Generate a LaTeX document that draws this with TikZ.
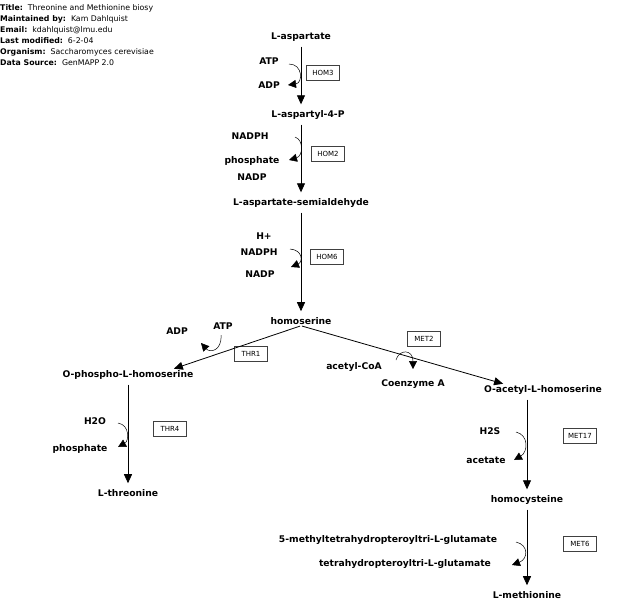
\documentclass[tikz,border=0pt]{standalone}
\usepackage{fontspec}
\setmainfont{DejaVu Sans}
\usetikzlibrary{arrows.meta,positioning}

\begin{document}
\begin{tikzpicture}[x=1pt, y=-1pt, every node/.style={font=\fontsize{9.2}{11}\selectfont\bfseries, inner sep=1pt}]
\tikzset{gene/.style={draw=black!75, font=\fontsize{7}{8}\selectfont, minimum width=33pt, minimum height=15pt, inner sep=2pt}}
\tikzset{rxn/.style={-{Triangle[length=9pt,width=8pt]}, line width=0.8pt, shorten <=4pt, shorten >=5pt}}
\tikzset{side/.style={-{Triangle[length=8pt,width=8pt]}, line width=0.5pt}}
\tikzset{info/.style={anchor=west, font=\fontsize{7.8}{9}\selectfont, inner sep=0pt}}
\useasboundingbox (0,0) rectangle (622,614);
% header
\node[info] (title) at (0,8) {\textbf{Title:}\ \ Threonine and Methionine biosy};
\node[info] (maint) at (0,19) {\textbf{Maintained by:}\ \ Kam Dahlquist};
\node[info] (email) at (0,30) {\textbf{Email:}\ \ kdahlquist@lmu.edu};
\node[info] (lastmod) at (0,41) {\textbf{Last modified:}\ \ 6-2-04};
\node[info] (organism) at (0,52) {\textbf{Organism:}\ \ Saccharomyces cerevisiae};
\node[info] (source) at (0,63) {\textbf{Data Source:}\ \ GenMAPP 2.0};
% metabolites
\node (asp) at (301,37) {L-aspartate};
\node (asp4p) at (308,115) {L-aspartyl-4-P};
\node (asa) at (301,203) {L-aspartate-semialdehyde};
\node (hser) at (301,321) {homoserine};
\node (phser) at (128,375) {O-phospho-L-homoserine};
\node (thr) at (128,493) {L-threonine};
\node (ahser) at (543,390) {O-acetyl-L-homoserine};
\node (hcys) at (527,500) {homocysteine};
\node (met) at (527,595) {L-methionine};
% cofactors
\node (atp1) at (269,61) {ATP};
\node (adp1) at (269,85) {ADP};
\node (nadph1) at (250,136) {NADPH};
\node (pi1) at (252,161) {phosphate};
\node (nadp1) at (252,177) {NADP};
\node (hplus) at (264,236) {H+};
\node (nadph2) at (259,252) {NADPH};
\node (nadp2) at (260,274) {NADP};
\node (adp2) at (177,331) {ADP};
\node (atp2) at (223,326) {ATP};
\node (h2o) at (95,421) {H2O};
\node (pi2) at (80,449) {phosphate};
\node (accoa) at (354,367) {acetyl-CoA};
\node (coa) at (413,384) {Coenzyme A};
\node (h2s) at (490,431) {H2S};
\node (acetate) at (486,460) {acetate};
\node (mthf) at (388,540) {5-methyltetrahydropteroyltri-L-glutamate};
\node (thf) at (405,564) {tetrahydropteroyltri-L-glutamate};
% genes
\node[gene] (hom3) at (323,73) {HOM3};
\node[gene] (hom2) at (328,154) {HOM2};
\node[gene] (hom6) at (327,257) {HOM6};
\node[gene] (thr1) at (251,354) {THR1};
\node[gene] (thr4) at (170,429) {THR4};
\node[gene] (met2) at (424,339) {MET2};
\node[gene] (met17) at (580,436) {MET17};
\node[gene] (met6) at (580,544) {MET6};
% reactions
\draw[rxn] (asp.south) -- (asp.south |- asp4p.north);
\draw[rxn] (asp.south |- asp4p.south) -- (asa.north);
\draw[rxn] (asa.south) -- (hser.north);
\draw[rxn, shorten <=1pt, shorten >=2pt] (hser.south) -- ([xshift=44pt]phser.north);
\draw[rxn, shorten <=1pt, shorten >=2pt] (hser.south) -- ([xshift=-38pt]ahser.north);
\draw[rxn] (phser.south) -- (thr.north);
\draw[rxn] (hcys |- ahser.south) -- (hcys.north);
\draw[rxn] (hcys.south) -- (met.north);
% cofactor arcs
\draw[side] (289,64) .. controls (303,64) and (303,83) .. (288,85);
\draw[side] (295,137) .. controls (304,140) and (303,156) .. (289,160);
\draw[side] (290,249) .. controls (303,250) and (303,262) .. (291,267);
\draw[side] (221,335) .. controls (222,351) and (210,353) .. (201,343);
\draw[side] (396,360) .. controls (399,349) and (413,349) .. (413,369);
\draw[side] (118,423) .. controls (130,425) and (129,441) .. (118,447);
\draw[side] (516,432) .. controls (529,435) and (528,452) .. (514,460);
\draw[side] (516,542) .. controls (529,545) and (528,559) .. (512,565);
\end{tikzpicture}
\end{document}
